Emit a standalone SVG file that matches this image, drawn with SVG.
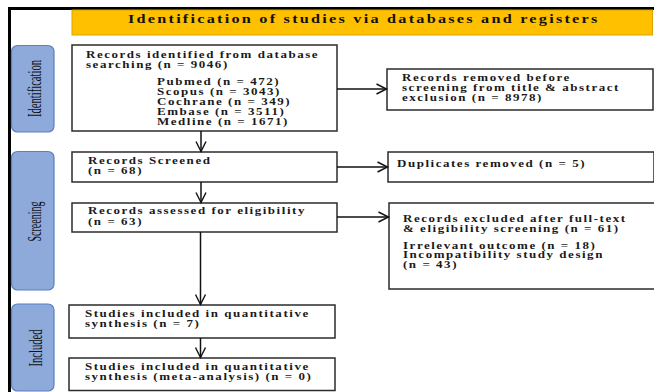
<svg xmlns="http://www.w3.org/2000/svg" width="654" height="392" viewBox="0 0 654 392">
<defs>
<style>
.box{fill:#fff;stroke:#2b2b2b;stroke-width:1.5}
.lab{fill:#8eaadb;stroke:#5b7fc0;stroke-width:1.2}
.t{font-family:"Liberation Serif","Times New Roman",serif;font-size:10px;font-weight:bold;letter-spacing:1.18px;fill:#1a1a1a}
.title{font-family:"Liberation Serif","Times New Roman",serif;font-size:12.5px;font-weight:bold;fill:#111}
.lt{font-family:"Liberation Serif","Times New Roman",serif;font-size:19px;fill:#111}
.c{fill:none;stroke:#111;stroke-width:1.5}
</style>
<marker id="ah" markerUnits="userSpaceOnUse" markerWidth="14" markerHeight="12" refX="11" refY="6" orient="auto" viewBox="0 0 14 12">
<path d="M1,1 L11,6 L1,11" fill="none" stroke="#111" stroke-width="1.4"/>
</marker>
</defs>
<rect width="654" height="392" fill="#fff"/>
<g id="frame">
<path d="M8,8.5 H654 M9.5,7 V392" fill="none" stroke="#000" stroke-width="3"/>
</g>
<g id="title">
<rect x="72" y="10" width="580.5" height="25" fill="#ffc000" stroke="#d9a400" stroke-width="1"/>
<text class="title" transform="matrix(1.3 0 0 1 128 22.5)" textLength="361" lengthAdjust="spacing">Identification of studies via databases and registers</text>
</g>
<g id="label-identification">
<rect class="lab" x="11.5" y="45.5" width="42.5" height="86.5" rx="6"/>
<text class="lt" transform="translate(41,88.5) rotate(-90)" text-anchor="middle" textLength="57" lengthAdjust="spacingAndGlyphs">Identification</text>
</g>
<g id="label-screening">
<rect class="lab" x="11.5" y="151.5" width="42.5" height="138.5" rx="6"/>
<text class="lt" transform="translate(41,221.5) rotate(-90)" text-anchor="middle" textLength="40" lengthAdjust="spacingAndGlyphs">Screening</text>
</g>
<g id="label-included">
<rect class="lab" x="11.5" y="304" width="42.5" height="87" rx="6"/>
<text class="lt" transform="translate(41.5,348) rotate(-90)" text-anchor="middle" textLength="37" lengthAdjust="spacingAndGlyphs">Included</text>
</g>
<g id="records-identified">
<rect class="box" x="72" y="45" width="265" height="86"/>
<text class="t" transform="matrix(1.3 0 0 1 86 57.5)">Records identified from database</text>
<text class="t" transform="matrix(1.3 0 0 1 86 67.5)">searching (n = 9046)</text>
<text class="t" transform="matrix(1.3 0 0 1 157 84.5)">Pubmed (n = 472)</text>
<text class="t" transform="matrix(1.3 0 0 1 157 94.5)">Scopus (n = 3043)</text>
<text class="t" transform="matrix(1.3 0 0 1 157 104.5)">Cochrane (n = 349)</text>
<text class="t" transform="matrix(1.3 0 0 1 157 114.5)">Embase (n = 3511)</text>
<text class="t" transform="matrix(1.3 0 0 1 157 124.5)">Medline (n = 1671)</text>
</g>
<g id="records-removed">
<rect class="box" x="387" y="69" width="266" height="41"/>
<text class="t" transform="matrix(1.3 0 0 1 402 80.5)">Records removed before</text>
<text class="t" transform="matrix(1.3 0 0 1 402 90.5)">screening from title &amp; abstract</text>
<text class="t" transform="matrix(1.3 0 0 1 402 100.5)">exclusion (n = 8978)</text>
</g>
<g id="records-screened">
<rect class="box" x="72" y="152" width="265" height="30"/>
<text class="t" transform="matrix(1.3 0 0 1 88 163.5)">Records Screened</text>
<text class="t" transform="matrix(1.3 0 0 1 88 174)">(n = 68)</text>
</g>
<g id="duplicates-removed">
<rect class="box" x="388" y="152" width="266" height="30"/>
<text class="t" transform="matrix(1.3 0 0 1 397 166.5)">Duplicates removed (n = 5)</text>
</g>
<g id="records-assessed">
<rect class="box" x="72" y="203" width="265" height="29"/>
<text class="t" transform="matrix(1.3 0 0 1 88 214)">Records assessed for eligibility</text>
<text class="t" transform="matrix(1.3 0 0 1 88 225)">(n = 63)</text>
</g>
<g id="records-excluded">
<rect class="box" x="389" y="203" width="266" height="86"/>
<text class="t" transform="matrix(1.3 0 0 1 403 222)">Records excluded after full-text</text>
<text class="t" transform="matrix(1.3 0 0 1 403 232)">&amp; eligibility screening (n = 61)</text>
<text class="t" transform="matrix(1.3 0 0 1 403 248.5)">Irrelevant outcome (n = 18)</text>
<text class="t" transform="matrix(1.3 0 0 1 403 258)">Incompatibility study design</text>
<text class="t" transform="matrix(1.3 0 0 1 403 267.5)">(n = 43)</text>
</g>
<g id="studies-included">
<rect class="box" x="69" y="305" width="266" height="33"/>
<text class="t" transform="matrix(1.3 0 0 1 85 316.5)">Studies included in quantitative</text>
<text class="t" transform="matrix(1.3 0 0 1 85 326.5)">synthesis (n = 7)</text>
</g>
<g id="studies-meta">
<rect class="box" x="69" y="358" width="266" height="32.5"/>
<text class="t" transform="matrix(1.3 0 0 1 85 370)">Studies included in quantitative</text>
<text class="t" transform="matrix(1.3 0 0 1 85 380)">synthesis (meta-analysis) (n = 0)</text>
</g>
<g id="connectors">
<line class="c" x1="201" y1="131" x2="201" y2="151.5" marker-end="url(#ah)"/>
<line class="c" x1="337" y1="89" x2="386.5" y2="89" marker-end="url(#ah)"/>
<line class="c" x1="337" y1="167" x2="387.5" y2="167" marker-end="url(#ah)"/>
<line class="c" x1="201" y1="182" x2="201" y2="202.5" marker-end="url(#ah)"/>
<line class="c" x1="337" y1="217" x2="388.5" y2="217" marker-end="url(#ah)"/>
<line class="c" x1="200.5" y1="232" x2="200.5" y2="304.5" marker-end="url(#ah)"/>
<line class="c" x1="200.5" y1="338" x2="200.5" y2="357.5" marker-end="url(#ah)"/>
</g>
</svg>
